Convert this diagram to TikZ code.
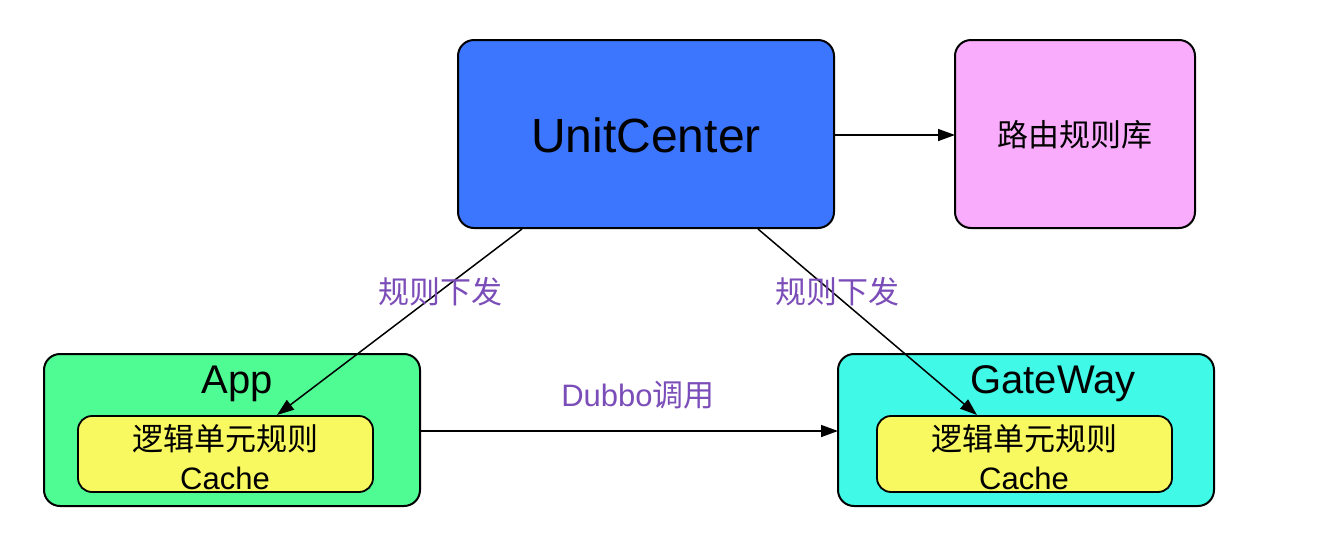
\documentclass[tikz,border=0pt]{standalone}
\usepackage{fontspec}
\setmainfont{Liberation Sans}
\newfontfamily\cjk{Noto Sans CJK SC}
\usetikzlibrary{arrows.meta}
\definecolor{ucblue}{HTML}{3C75FE}
\definecolor{rpink}{HTML}{F9ACFB}
\definecolor{appgreen}{HTML}{4FFC94}
\definecolor{gwcyan}{HTML}{40F9E6}
\definecolor{cacheyellow}{HTML}{F8F860}
\definecolor{lblpurple}{HTML}{7B4DB8}
\tikzset{
  box/.style={draw=black, line width=2pt, rounded corners=16pt},
  inner/.style={draw=black, line width=1.8pt, rounded corners=14pt, fill=cacheyellow},
  conn/.style={line width=1.5pt, -{Triangle[length=17pt,width=12pt]}},
  lbl/.style={text=lblpurple, font=\fontsize{31}{34}\selectfont},
  ctext/.style={align=center, font=\fontsize{31}{39}\selectfont},
}
\begin{document}
\begin{tikzpicture}[x=1pt,y=-1pt]
\useasboundingbox (0,0) rectangle (1334,558);
% boxes
\draw[box, fill=ucblue] (458,40) rectangle (834,228);
\node[font=\fontsize{48}{52}\selectfont] (uc) at (646,135) {UnitCenter};
\coordinate (ucR) at (834,135);
\draw[box, fill=rpink] (955,40) rectangle (1195,228);
\node[font=\fontsize{31}{34}\selectfont] (rl) at (1075,135) {\cjk 路由规则库};
\coordinate (rlL) at (955,135);
\draw[box, fill=appgreen] (44,354) rectangle (420,506);
\node[font=\fontsize{40}{44}\selectfont] (app) at (237,384) {App};
\draw[inner] (78,416) rectangle (373,492);
\node[ctext] (appc) at (225,457) {{\cjk 逻辑单元规则}\\Cache};
\draw[box, fill=gwcyan] (838,354) rectangle (1214,506);
\node[font=\fontsize{40}{44}\selectfont] (gw) at (1053,384) {GateWay};
\draw[inner] (877,416) rectangle (1172,492);
\node[ctext] (gwc) at (1024,457) {{\cjk 逻辑单元规则}\\Cache};
% connector endpoints
\coordinate (ucBL) at (522,229);
\coordinate (appT) at (277,415);
\coordinate (ucBR) at (758,229);
\coordinate (gwT) at (977,415);
\coordinate (appR) at (420,431);
\coordinate (gwL) at (838,431);
\draw[conn] (ucR) -- (rlL);
\draw[conn] (ucBL) -- (appT);
\draw[conn] (ucBR) -- (gwT);
\draw[conn] (appR) -- (gwL);
% labels
\node[lbl] (l1) at (440,292) {\cjk 规则下发};
\node[lbl] (l2) at (837,292) {\cjk 规则下发};
\node[lbl] (l3) at (638,395) {Dubbo{\cjk 调用}};
\end{tikzpicture}
\end{document}
